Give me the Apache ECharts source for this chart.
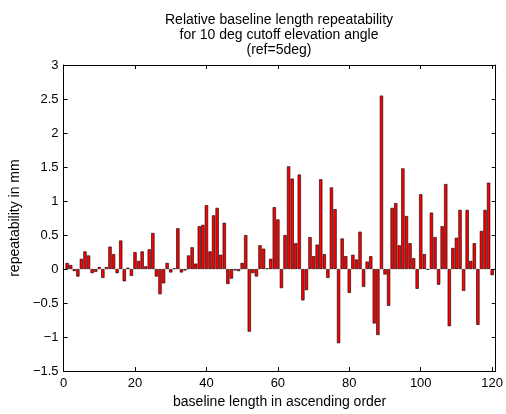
<!DOCTYPE html>
<html>
<head>
<meta charset="utf-8">
<script src="https://cdn.jsdelivr.net/npm/echarts@6/dist/echarts.min.js"></script>
<style>
  html, body { margin: 0; padding: 0; background: #fff; }
  #main { width: 506px; height: 414px; }
</style>
</head>
<body>
<div id="main"></div>
<script>
// repeatability per baseline (mm), baselines sorted by length, index 1..120
var repeatability = [
  0.09, 0.06, -0.03, -0.11, 0.15, 0.26, 0.20, -0.06, -0.04, 0.03,
  -0.13, 0.03, 0.33, 0.22, -0.06, 0.42, -0.18, 0.02, -0.10, 0.25,
  0.12, 0.26, 0.04, 0.29, 0.53, -0.11, -0.37, -0.21, 0.09, -0.05,
  0.01, 0.60, -0.05, -0.02, 0.20, 0.32, 0.08, 0.63, 0.65, 0.94,
  0.26, 0.79, 0.90, 0.21, 0.68, -0.22, -0.14, -0.02, -0.03, 0.09,
  0.50, -0.92, -0.06, -0.11, 0.35, 0.30, 0.01, 0.15, 0.91, 0.73,
  -0.28, 0.50, 1.51, 1.33, 0.38, 1.39, -0.46, -0.31, 0.47, 0.19,
  0.36, 1.32, 0.22, -0.13, 1.20, 0.88, -1.09, 0.45, 0.19, -0.35,
  0.21, 0.14, 0.55, -0.26, 0.11, 0.19, -0.80, -0.97, 2.55, -0.08,
  -0.54, 0.90, 0.97, 0.35, 1.48, 0.78, 0.38, 0.16, -0.29, 1.10,
  0.22, -0.01, 0.83, 0.47, -0.23, 0.63, 1.25, -0.84, 0.31, 0.46,
  0.87, -0.32, 0.87, 0.12, 0.38, -0.82, 0.56, 0.87, 1.27, -0.09
];
var xTicks = [0, 20, 40, 60, 80, 100, 120];
var yTicks = [-1.5, -1, -0.5, 0, 0.5, 1, 1.5, 2, 2.5, 3];
var titleLines = [
  'Relative baseline length repeatability',
  'for 10 deg cutoff elevation angle',
  '(ref=5deg)'
];

var font = '"Liberation Sans", Arial, Helvetica, sans-serif';
var chart = echarts.init(document.getElementById('main'), null, { renderer: 'canvas' });

function minusFmt(v) {
  return (v < 0 ? '\u2212' : '') + Math.abs(v);
}

var seriesData = repeatability.map(function (v, i) { return [i + 1, v]; });

var tickStyle = { show: true, inside: true, length: 4, lineStyle: { color: '#000', width: 1 } };
var lineStyle = { show: true, onZero: false, lineStyle: { color: '#000', width: 1 } };

var option = {
  animation: false,
  backgroundColor: '#fff',
  title: {
    text: titleLines.join('\n'),
    left: 274,
    top: 8,
    textAlign: 'center',
    textStyle: { fontFamily: font, fontSize: 14, fontWeight: 'normal', color: '#000', lineHeight: 15 }
  },
  grid: { left: 62, right: 9, top: 65, bottom: 40 },
  xAxis: [{
    type: 'value',
    min: 0, max: 121, interval: 20,
    name: 'baseline length in ascending order',
    nameLocation: 'middle',
    nameGap: 21,
    nameTextStyle: { fontFamily: font, fontSize: 14, color: '#000' },
    axisLine: lineStyle,
    axisTick: tickStyle,
    axisLabel: { fontFamily: font, fontSize: 13, color: '#000', margin: 6, showMaxLabel: false,
      formatter: function (v) { return xTicks.indexOf(v) >= 0 ? String(v) : ''; } },
    splitLine: { show: false }
  }, {
    type: 'value', position: 'top',
    min: 0, max: 121, interval: 20,
    axisLine: lineStyle,
    axisTick: tickStyle,
    axisLabel: { show: false },
    splitLine: { show: false }
  }],
  yAxis: [{
    type: 'value',
    min: -1.5, max: 3, interval: 0.5,
    name: 'repeatability in mm',
    nameLocation: 'middle',
    nameGap: 35,
    nameTextStyle: { fontFamily: font, fontSize: 14, color: '#000' },
    axisLine: lineStyle,
    axisTick: tickStyle,
    axisLabel: { fontFamily: font, fontSize: 13, color: '#000', margin: 5,
      formatter: function (v) { return yTicks.indexOf(v) >= 0 ? minusFmt(v) : ''; } },
    splitLine: { show: false }
  }, {
    type: 'value', position: 'right',
    min: -1.5, max: 3, interval: 0.5,
    axisLine: lineStyle,
    axisTick: tickStyle,
    axisLabel: { show: false },
    splitLine: { show: false }
  }],
  series: [{
    type: 'bar',
    xAxisIndex: 0,
    yAxisIndex: 0,
    barWidth: 3.3,
    itemStyle: { color: '#ff0000', borderColor: '#000', borderWidth: 0.6 },
    data: seriesData
  }]
};

chart.setOption(option);
</script>
</body>
</html>
